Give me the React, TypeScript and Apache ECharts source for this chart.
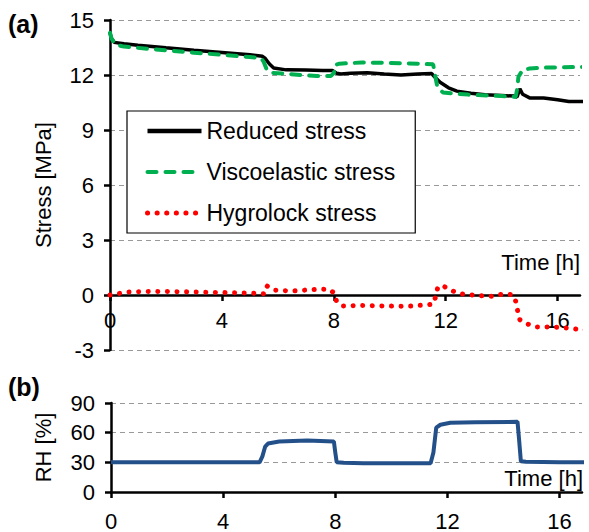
import React, { useEffect, useRef } from "react";
import * as echarts from "echarts";

const timeTicks = [0, 4, 8, 12, 16];

const reducedTime = [0, 0.05, 0.15, 0.5, 1, 2, 3, 4, 5, 5.45, 5.55, 5.7, 5.85, 6.3, 7, 7.6, 7.95, 8.1, 8.25, 8.6, 9.2, 9.8, 10.4, 11, 11.5, 11.6, 11.8, 12.1, 12.4, 12.9, 13.4, 14.0, 14.45, 14.55, 14.65, 14.75, 15.0, 15.5, 16.0, 16.4, 17.1];
const reducedStress = [14.3, 14.0, 13.78, 13.7, 13.62, 13.48, 13.35, 13.23, 13.1, 13.02, 12.9, 12.6, 12.38, 12.28, 12.27, 12.25, 12.24, 12.1, 12.05, 12.1, 12.12, 12.05, 12.0, 12.05, 12.08, 11.9, 11.6, 11.3, 11.12, 11.0, 10.92, 10.88, 10.85, 10.8, 11.25, 10.95, 10.75, 10.75, 10.65, 10.55, 10.55];

const viscoTime = [0, 0.05, 0.2, 0.5, 1, 2, 3, 4, 5, 5.4, 5.5, 5.6, 5.75, 6.2, 6.8, 7.4, 7.9, 8.0, 8.05, 8.2, 9, 10, 11, 11.55, 11.62, 11.7, 11.9, 12.3, 12.8, 13.5, 14.0, 14.5, 14.55, 14.6, 14.75, 15.0, 15.5, 16.2, 17.1];
const viscoStress = [14.3, 14.0, 13.65, 13.55, 13.48, 13.35, 13.22, 13.1, 12.98, 12.92, 12.7, 12.3, 12.12, 12.08, 12.0, 11.95, 11.95, 12.1, 12.55, 12.62, 12.68, 12.66, 12.62, 12.58, 12.0, 11.35, 11.05, 10.98, 10.93, 10.88, 10.85, 10.8, 11.2, 11.9, 12.28, 12.35, 12.4, 12.42, 12.45];

const hygroTime = [0, 0.3, 0.65, 1.5, 2.5, 3.5, 4.5, 5.2, 5.5, 5.6, 5.85, 6.5, 7.2, 7.5, 7.85, 8.0, 8.1, 8.3, 9, 9.9, 10.6, 11.2, 11.55, 11.65, 11.72, 11.9, 12.2, 12.5, 13.1, 13.65, 14.05, 14.4, 14.5, 14.57, 14.65, 14.9, 15.25, 15.8, 16.35, 16.8, 17.1];
const hygroStress = [0, 0.08, 0.16, 0.2, 0.18, 0.15, 0.12, 0.09, 0.07, 0.5, 0.27, 0.22, 0.29, 0.32, 0.3, 0.12, -0.35, -0.6, -0.57, -0.6, -0.62, -0.55, -0.5, -0.05, 0.45, 0.5, 0.25, 0.07, -0.03, -0.07, 0.05, 0.02, -0.33, -0.85, -1.35, -1.57, -1.75, -1.74, -1.8, -1.88, -1.9];

const rhTime = [0, 2, 4, 5.3, 5.4, 5.5, 5.6, 6, 7, 7.95, 8.0, 8.05, 8.3, 9, 10, 11.4, 11.5, 11.6, 11.75, 12.1, 13, 14.5, 14.55, 14.62, 14.8, 16, 17.1];
const rhValues = [30, 30, 30, 30, 36, 46, 49, 51, 52, 51, 40, 30, 29.5, 29, 29, 29, 40, 65, 68, 70, 70.5, 71, 55, 31, 30.5, 30, 30];

const FONT = "'Liberation Sans', Arial, sans-serif";

const zip = (xs: number[], ys: number[]) => xs.map((x, i) => [x, ys[i]]);

export default function App() {
  const ref = useRef<HTMLDivElement>(null);
  useEffect(() => {
    if (!ref.current) return;
    const chart = echarts.init(ref.current, undefined, { renderer: "svg" });
    const axisLine = { lineStyle: { color: "#000", width: 2.5 } };
    const tick = { show: true, length: 6, lineStyle: { color: "#000", width: 2.5 } };
    const labelStyle = { fontSize: 22, color: "#000", fontFamily: FONT };
    const split = { show: true, lineStyle: { color: "#999", width: 1, type: [5, 4] } };
    const greenDash = { color: "#00B050", width: 4, type: [9, 9], cap: "round" };
    const redDots = { color: "#FF0000", width: 5, type: [0.1, 9.5], cap: "round" };
    chart.setOption({
      animation: false,
      backgroundColor: "#fff",
      textStyle: { fontFamily: FONT },
      grid: [
        { left: 110, top: 20, width: 470, height: 330 },
        { left: 111, top: 403, width: 471, height: 91 },
      ],
      xAxis: [
        {
          gridIndex: 0, type: "value", min: 0, max: 16.8, position: "bottom", offset: -55,
          axisLine: { ...axisLine, onZero: false },
          axisTick: { ...tick, customValues: timeTicks },
          axisLabel: { ...labelStyle, margin: 14, customValues: timeTicks },
          splitLine: { show: false },
        },
        {
          gridIndex: 1, type: "value", min: 0, max: 16.8,
          axisLine: { ...axisLine, onZero: true },
          axisTick: { ...tick, customValues: timeTicks },
          axisLabel: { ...labelStyle, margin: 18, customValues: timeTicks },
          splitLine: { show: false },
        },
      ],
      yAxis: [
        {
          gridIndex: 0, type: "value", min: -3, max: 15, interval: 3,
          name: "Stress [MPa]", nameLocation: "middle", nameGap: 56, nameRotate: 90,
          nameTextStyle: { ...labelStyle },
          axisLine: { show: true, onZero: false, ...axisLine },
          axisTick: tick,
          axisLabel: { ...labelStyle, margin: 16 },
          splitLine: split,
        },
        {
          gridIndex: 1, type: "value", min: 0, max: 90, interval: 30,
          name: "RH [%]", nameLocation: "middle", nameGap: 57, nameRotate: 90,
          nameTextStyle: { ...labelStyle },
          axisLine: { show: true, onZero: false, ...axisLine },
          axisTick: tick,
          axisLabel: { ...labelStyle, margin: 16 },
          splitLine: split,
        },
      ],
      legend: {
        orient: "vertical",
        left: 127,
        top: 111,
        borderColor: "#000",
        borderWidth: 1.2,
        backgroundColor: "#fff",
        padding: [8, 20, 8, 18],
        itemGap: 17,
        itemWidth: 54,
        itemHeight: 14,
        itemStyle: { opacity: 0 },
        textStyle: { fontSize: 23, color: "#000", fontFamily: FONT, lineHeight: 24 },
        data: [
          { name: "Reduced stress", lineStyle: { color: "#000", width: 4.5 } },
          { name: "Viscoelastic stress", lineStyle: { ...greenDash } },
          { name: "Hygrolock stress", lineStyle: { ...redDots } },
        ],
      },
      graphic: [
        { type: "text", left: 8, top: 11, style: { text: "(a)", font: `bold 25px ${FONT}`, fill: "#000" } },
        { type: "text", left: 8, top: 374, style: { text: "(b)", font: `bold 25px ${FONT}`, fill: "#000" } },
        { type: "text", x: 580, y: 262, style: { text: "Time [h]", font: `22px ${FONT}`, fill: "#000", align: "right", verticalAlign: "middle" } },
        { type: "text", x: 583, y: 478, z: 10, style: { text: "Time [h]", font: `22px ${FONT}`, fill: "#000", align: "right", verticalAlign: "middle" } },
      ],
      series: [
        {
          name: "Reduced stress", type: "line", xAxisIndex: 0, yAxisIndex: 0,
          data: zip(reducedTime, reducedStress), symbol: "none", clip: false,
          lineStyle: { color: "#000", width: 3.5 }, itemStyle: { color: "#000" }, z: 3,
        },
        {
          name: "Viscoelastic stress", type: "line", xAxisIndex: 0, yAxisIndex: 0,
          data: zip(viscoTime, viscoStress), symbol: "none", clip: false,
          lineStyle: greenDash, itemStyle: { color: "#00B050" }, z: 4,
        },
        {
          name: "Hygrolock stress", type: "line", xAxisIndex: 0, yAxisIndex: 0,
          data: zip(hygroTime, hygroStress), symbol: "none", clip: false,
          lineStyle: redDots, itemStyle: { color: "#FF0000" }, z: 5,
        },
        {
          name: "RH", type: "line", xAxisIndex: 1, yAxisIndex: 1,
          data: zip(rhTime, rhValues), symbol: "none", clip: false,
          lineStyle: { color: "#24508A", width: 4 }, itemStyle: { color: "#24508A" },
        },
      ],
    });
    return () => chart.dispose();
  }, []);
  return <div ref={ref} style={{ position: "absolute", left: 0, top: 0, width: 589, height: 532 }} />;
}
